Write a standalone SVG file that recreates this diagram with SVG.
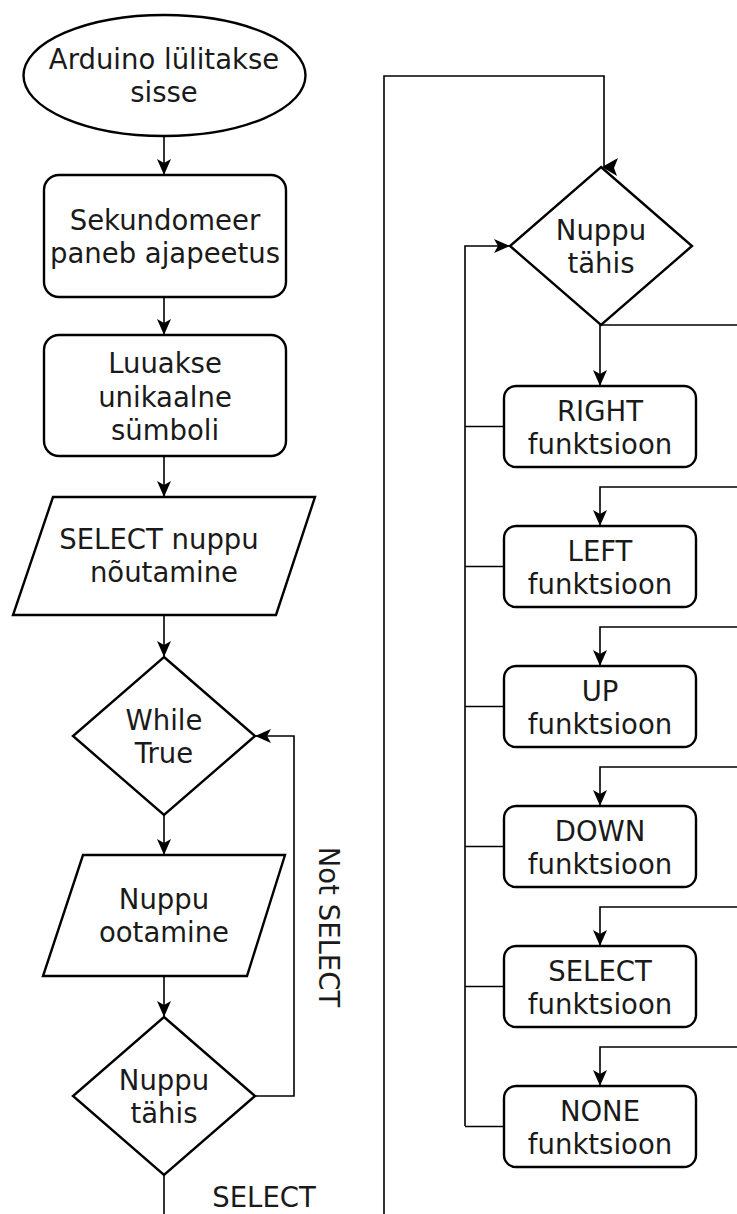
<svg xmlns="http://www.w3.org/2000/svg" width="737" height="1214" viewBox="0 0 737 1214">
<style>
.s{fill:#fff;stroke:#000;stroke-width:2.4}
.c{fill:none;stroke:#000;stroke-width:1.6}
.t{font-family:"DejaVu Sans",Verdana,sans-serif;font-size:27.5px;fill:#1a1a1a;text-anchor:middle}
</style>
<defs>
<marker id="ah" viewBox="0 0 16 14" refX="16" refY="7" markerWidth="16" markerHeight="14" markerUnits="userSpaceOnUse" orient="auto">
<path d="M0,0 L16,7 L0,14 L4,7 Z" fill="#000"/>
</marker>
</defs>
<rect width="737" height="1214" fill="#fff"/>
<g id="connectors">
<path class="c" d="M164,136 V175" marker-end="url(#ah)"/>
<path class="c" d="M164,297 V335" marker-end="url(#ah)"/>
<path class="c" d="M164,456 V497" marker-end="url(#ah)"/>
<path class="c" d="M164,615 V657" marker-end="url(#ah)"/>
<path class="c" d="M164,815 V855" marker-end="url(#ah)"/>
<path class="c" d="M164,976 V1017" marker-end="url(#ah)"/>
<path class="c" d="M255,1096 H294 V736 H255" marker-end="url(#ah)"/>
<path class="c" d="M164,1175 V1214"/>
<path class="c" d="M384,1214 V76 H604 V166"/>
<path d="M602,167 L618,158 L614,168 L617,176 Z" fill="#000"/>
<path class="c" d="M465,1126 V246 H510" marker-end="url(#ah)"/>
<path class="c" d="M600,325 V386" marker-end="url(#ah)"/>
<path class="c" d="M600,325 H737"/>
<path class="c" d="M737,487 H600 V526" marker-end="url(#ah)"/>
<path class="c" d="M737,627 H600 V666" marker-end="url(#ah)"/>
<path class="c" d="M737,767 H600 V806" marker-end="url(#ah)"/>
<path class="c" d="M737,907 H600 V946" marker-end="url(#ah)"/>
<path class="c" d="M737,1047 H600 V1086" marker-end="url(#ah)"/>
<path class="c" d="M504,426.5 H465 M504,566.5 H465 M504,706.5 H465 M504,846.5 H465 M504,986.5 H465 M504,1126.5 H465"/>
<text class="t" transform="translate(319,927) rotate(90)">Not SELECT</text>
<text class="t" x="264" y="1207">SELECT</text>
</g>
<g id="start">
<ellipse class="s" cx="164.5" cy="75.5" rx="141" ry="60.5"/>
<text class="t" x="164" y="69">Arduino lülitakse</text>
<text class="t" x="164" y="102">sisse</text>
</g>
<g id="sekundomeer">
<rect class="s" x="44" y="175" width="242" height="122" rx="15"/>
<text class="t" x="165" y="230">Sekundomeer</text>
<text class="t" x="165" y="263">paneb ajapeetus</text>
</g>
<g id="luuakse">
<rect class="s" x="44" y="335" width="242" height="121" rx="15"/>
<text class="t" x="165" y="373">Luuakse</text>
<text class="t" x="165" y="407">unikaalne</text>
<text class="t" x="165" y="440">sümboli</text>
</g>
<g id="select-noutamine">
<polygon class="s" points="53,497 315,497 276,615 13,615"/>
<text class="t" x="159" y="549">SELECT nuppu</text>
<text class="t" x="164" y="582">nõutamine</text>
</g>
<g id="while-true">
<polygon class="s" points="164,657 255,736 164,815 73,736"/>
<text class="t" x="164" y="730">While</text>
<text class="t" x="164" y="763">True</text>
</g>
<g id="nuppu-ootamine">
<polygon class="s" points="83,855 285,855 247,976 43,976"/>
<text class="t" x="164" y="909">Nuppu</text>
<text class="t" x="164" y="942">ootamine</text>
</g>
<g id="nuppu-tahis-1">
<polygon class="s" points="164,1017 255,1096 164,1175 73,1096"/>
<text class="t" x="164" y="1090">Nuppu</text>
<text class="t" x="164" y="1123">tähis</text>
</g>
<g id="nuppu-tahis-2">
<polygon class="s" points="601,167 692,246 601,325 510,246"/>
<text class="t" x="601" y="240">Nuppu</text>
<text class="t" x="601" y="273">tähis</text>
</g>
<g id="right-f">
<rect class="s" x="504" y="386" width="192" height="81" rx="12"/>
<text class="t" x="600" y="421">RIGHT</text>
<text class="t" x="600" y="454">funktsioon</text>
</g>
<g id="left-f">
<rect class="s" x="504" y="526" width="192" height="81" rx="12"/>
<text class="t" x="600" y="561">LEFT</text>
<text class="t" x="600" y="594">funktsioon</text>
</g>
<g id="up-f">
<rect class="s" x="504" y="666" width="192" height="81" rx="12"/>
<text class="t" x="600" y="701">UP</text>
<text class="t" x="600" y="734">funktsioon</text>
</g>
<g id="down-f">
<rect class="s" x="504" y="806" width="192" height="81" rx="12"/>
<text class="t" x="600" y="841">DOWN</text>
<text class="t" x="600" y="874">funktsioon</text>
</g>
<g id="select-f">
<rect class="s" x="504" y="946" width="192" height="81" rx="12"/>
<text class="t" x="600" y="981">SELECT</text>
<text class="t" x="600" y="1014">funktsioon</text>
</g>
<g id="none-f">
<rect class="s" x="504" y="1086" width="192" height="81" rx="12"/>
<text class="t" x="600" y="1121">NONE</text>
<text class="t" x="600" y="1154">funktsioon</text>
</g>
</svg>
